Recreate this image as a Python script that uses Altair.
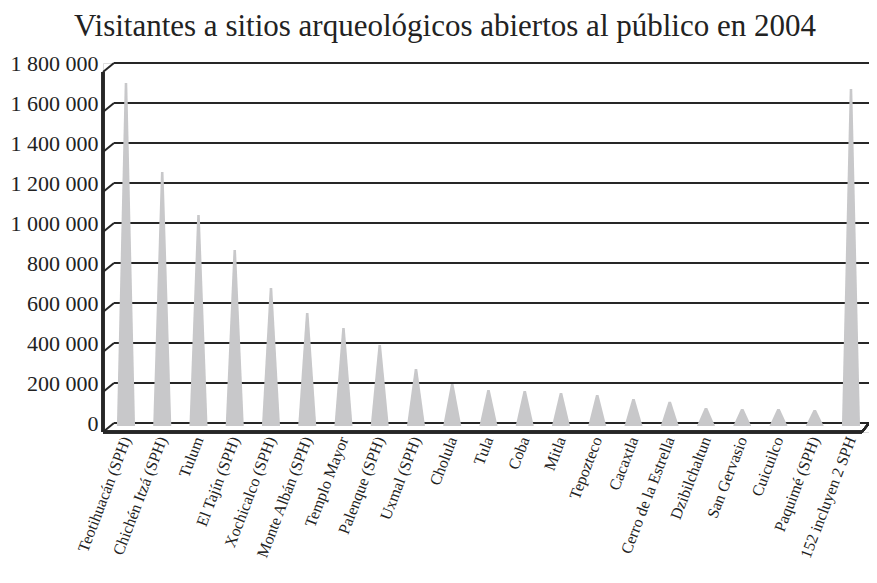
import json
import altair as alt
import pandas as pd

# ---------------- data ----------------
categories = [
    "Teotihuacán (SPH)", "Chichén Itzá (SPH)", "Tulum", "El Tajín (SPH)",
    "Xochicalco (SPH)", "Monte Albán (SPH)", "Templo Mayor", "Palenque (SPH)",
    "Uxmal (SPH)", "Cholula", "Tula", "Coba", "Mitla", "Tepozteco", "Cacaxtla",
    "Cerro de la Estrella", "Dzibilchaltun", "San Gervasio", "Cuicuilco",
    "Paquimé (SPH)", "152 incluyen 2 SPH",
]
visitors = [
    1700000, 1255000, 1040000, 865000, 675000, 550000, 475000, 390000,
    270000, 195000, 165000, 160000, 150000, 140000, 120000, 106000,
    75000, 70000, 70000, 65000, 1670000,
]
tick_values = [0, 200000, 400000, 600000, 800000, 1000000, 1200000,
               1400000, 1600000, 1800000]
title_text = "Visitantes a sitios arqueológicos abiertos al público en 2004"

# ---------------- layout constants ----------------
W, H = 766, 369
DEPTH_PX = 11            # horizontal depth of the 3D floor/wall
DEPTH_VAL = 45000        # vertical depth of the 3D floor, in data units
CONE_BASE = -15000       # cones stand in the middle of the floor
HALF_BASE = 0.25         # half width of a cone base (category units)
HALF_TOP = 0.035         # half width of a cone tip
X_MIN, X_MAX = -0.634, 20.497
FONT = "Liberation Serif"
LINE = "#262626"
CONE = "#c8c8ca"

# cone polygons built from the values
rows = []
for i, (c, v) in enumerate(zip(categories, visitors)):
    rows.append({"cat": c, "x": i - HALF_BASE, "y": CONE_BASE, "b": CONE_BASE})
    rows.append({"cat": c, "x": i - HALF_TOP, "y": v, "b": CONE_BASE})
    rows.append({"cat": c, "x": i + HALF_TOP, "y": v, "b": CONE_BASE})
    rows.append({"cat": c, "x": i + HALF_BASE, "y": CONE_BASE, "b": CONE_BASE})
cones_df = pd.DataFrame(rows)

grid_df = pd.DataFrame({"v": tick_values,
                        "lo": [t - DEPTH_VAL for t in tick_values]})

xscale = alt.Scale(domain=[X_MIN, X_MAX], nice=False, zero=False)
yscale = alt.Scale(domain=[-DEPTH_VAL, tick_values[-1]], nice=False, zero=False)

label_arr = json.dumps(categories, ensure_ascii=False)
x_axis = alt.Axis(
    values=list(range(len(categories))),
    labelExpr=f"{label_arr}[datum.value]",
    title=None, domain=False, ticks=False, grid=False,
    labelAngle=-69, labelFont=FONT, labelFontSize=16, labelColor="#222",
    labelPadding=5, labelOverlap=False, labelBound=False, labelFlush=False,
)
y_axis = alt.Axis(
    values=tick_values,
    labelExpr="replace(replace(format(datum.value, ','), ',', '\u00a0'), ',', '\u00a0')",
    title=None, domain=False, ticks=False, grid=False,
    labelFont=FONT, labelFontSize=22, labelColor="#222", labelPadding=5,
)

# back-wall gridlines
grid = alt.Chart(grid_df).mark_rule(color=LINE, strokeWidth=2).encode(
    x=alt.value(DEPTH_PX), x2=alt.value(W),
    y=alt.Y("v:Q", scale=yscale, axis=y_axis),
)
# slanted stubs on the left side wall
stubs = alt.Chart(grid_df).mark_rule(color=LINE, strokeWidth=2).encode(
    x=alt.value(0), x2=alt.value(DEPTH_PX),
    y=alt.Y("lo:Q", scale=yscale), y2="v:Q",
)
# cones
cones = alt.Chart(cones_df).mark_area(color=CONE, opacity=1).encode(
    x=alt.X("x:Q", scale=xscale, axis=x_axis),
    y=alt.Y("y:Q", scale=yscale, stack=None),
    y2="b:Q",
    detail="cat:N",
)
# front edges of the floor and left wall
left_edge = alt.Chart(grid_df).mark_rule(color=LINE, strokeWidth=2.5).encode(
    x=alt.value(0),
    y=alt.datum(-DEPTH_VAL), y2=alt.datum(tick_values[-1] - DEPTH_VAL),
)
front_edge = alt.Chart(grid_df).mark_rule(color=LINE, strokeWidth=2.5).encode(
    x=alt.value(0), x2=alt.value(W - 7),
    y=alt.datum(-DEPTH_VAL),
)
right_slant = alt.Chart(grid_df).mark_rule(color=LINE, strokeWidth=2).encode(
    x=alt.value(W - 7), x2=alt.value(W),
    y=alt.datum(-DEPTH_VAL), y2=alt.datum(0),
)
title = alt.Chart(pd.DataFrame({"t": [title_text]})).mark_text(
    font=FONT, fontSize=31, color="#222", align="center", baseline="alphabetic",
).encode(text="t:N", x=alt.value(342), y=alt.value(-27))

chart = alt.layer(grid, stubs, cones, left_edge, front_edge, right_slant, title).properties(
    width=W, height=H,
    autosize=alt.AutoSizeParams(type="none"),
    padding={"left": 95, "top": 55, "right": 0, "bottom": 143},
).configure_view(stroke=None).configure(background="white")

chart.save("out.html", embed_options={"renderer": "svg", "actions": False})
